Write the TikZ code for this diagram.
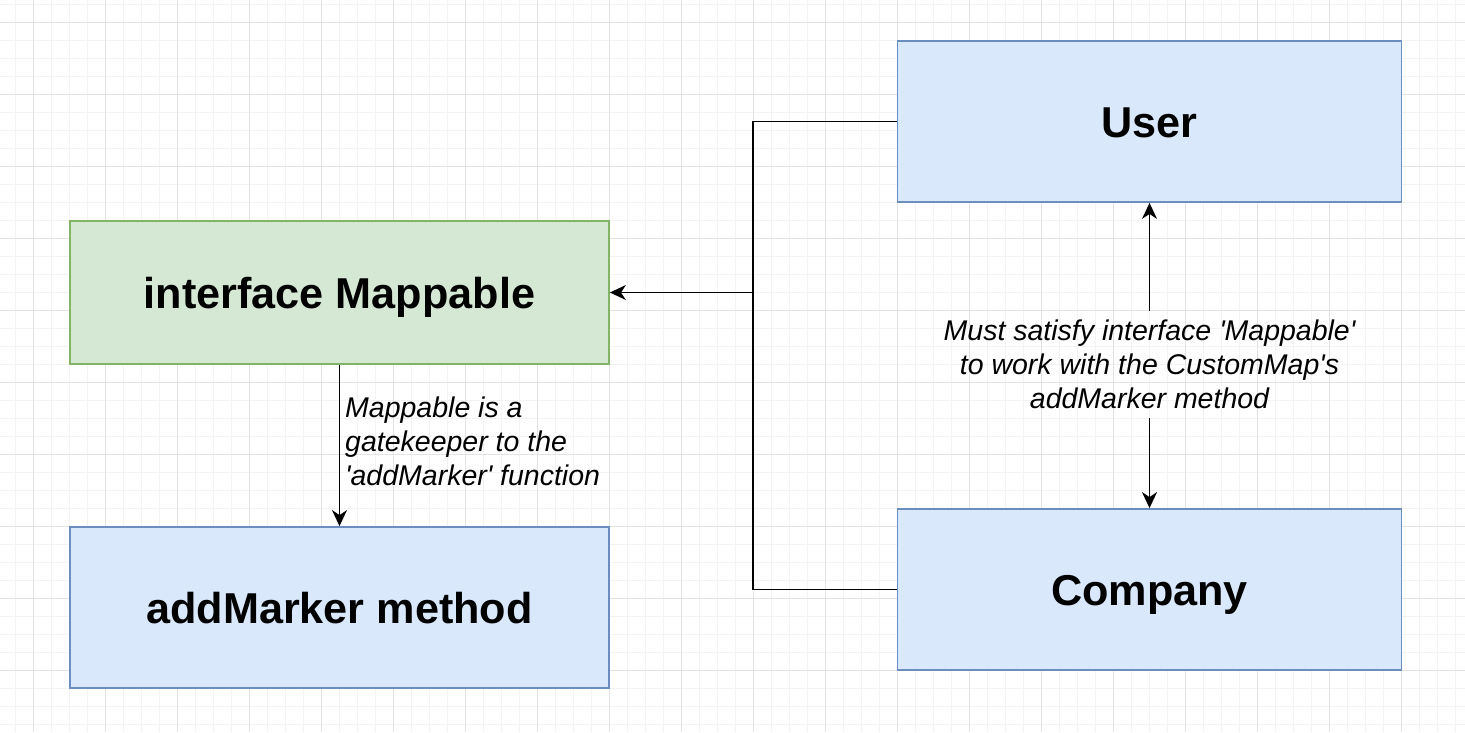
\documentclass[tikz,border=0pt]{standalone}
\usepackage{fontspec}
\setmainfont{Liberation Sans}
\usetikzlibrary{arrows.meta}
\definecolor{gminor}{HTML}{F3F3F3}
\definecolor{gmajor}{HTML}{E3E3E3}
\definecolor{greenfill}{HTML}{D5E8D4}
\definecolor{greenline}{HTML}{82B366}
\definecolor{bluefill}{HTML}{DAE8FC}
\definecolor{blueline}{HTML}{6C8EBF}
\newcommand{\sq}{\textquotesingle}
\begin{document}
\begin{tikzpicture}[x=1pt,y=-1pt,
  gridminor/.style={gminor, line width=1pt},
  gridmajor/.style={gmajor, line width=1.2pt},
  boxbase/.style={line width=1.8pt, inner sep=0pt, text height=31.5pt, text depth=0pt,
    font=\fontsize{43.2}{50}\selectfont\bfseries},
  greenbox/.style={boxbase, draw=greenline, fill=greenfill},
  bluebox/.style={boxbase, draw=blueline, fill=bluefill},
  lbl/.style={inner sep=0pt, font=\fontsize{28.5}{34}\selectfont\itshape},
  conn/.style={black, line width=1.8pt},
  tip/.style={-{Stealth[length=16pt, width=15pt, inset=5pt]}}
]
\useasboundingbox (0,0) rectangle (1465,732);
\fill[white] (0,0) rectangle (1465,732);
% grid
\foreach \x in {15.3,33.3,...,1470} \draw[gridminor] (\x,0) -- (\x,732);
\foreach \y in {4.3,22.3,...,740} \draw[gridminor] (0,\y) -- (1465,\y);
\foreach \x in {33.3,105.3,...,1470} \draw[gridmajor] (\x,0) -- (\x,732);
\foreach \y in {22.3,94.3,...,740} \draw[gridmajor] (0,\y) -- (1465,\y);

% boxes
\node[greenbox, minimum width=539pt, minimum height=143pt] (map) at (339.5,292.5) {interface Mappable};
\node[bluebox, minimum width=539pt, minimum height=161pt] (add) at (339.5,607.5) {addMarker method};
\node[bluebox, minimum width=504pt, minimum height=161pt] (user) at (1149.5,121.5) {User};
\node[bluebox, minimum width=504pt, minimum height=161pt] (comp) at (1149.5,589.5) {Company};

% labels
\node[lbl, anchor=north west, align=left] (lab1) at (345,396.5)
  {Mappable is a\\gatekeeper to the\\\sq addMarker\sq{} function};
\node[lbl, anchor=north, align=center, inner ysep=9pt] (lab2) at (1149.5,310.6)
  {Must satisfy interface \sq Mappable\sq\\to work with the CustomMap\sq s\\addMarker method};

% connectors
\coordinate (j) at (753.3,292.5);
\draw[conn, tip] (user.west) -| (j) -- (map.east);
\draw[conn] (comp.west) -| (j);
\draw[conn, tip] (map.south) -- (add.north);
\draw[conn, tip] (lab2.north) -- (user.south);
\draw[conn, tip] (lab2.south) -- (comp.north);
\end{tikzpicture}
\end{document}
